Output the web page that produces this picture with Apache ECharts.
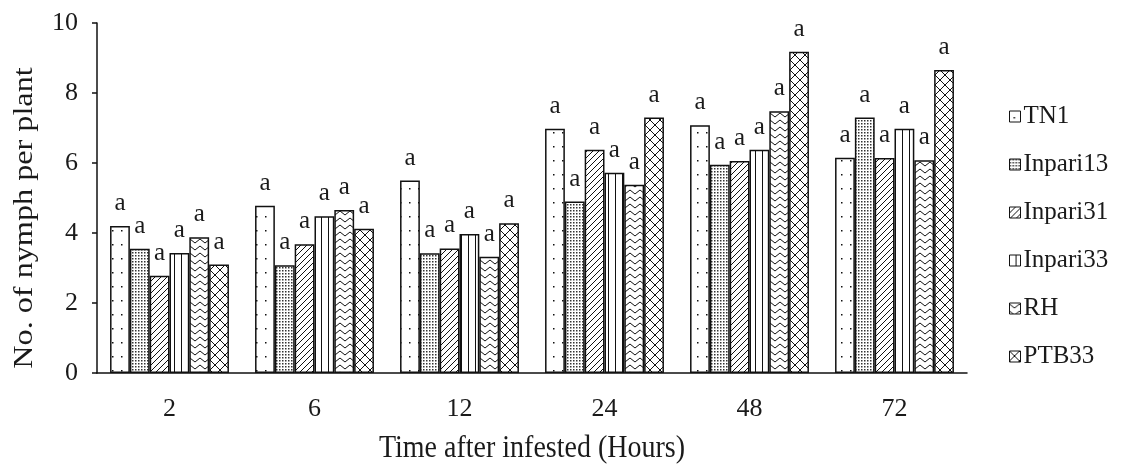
<!DOCTYPE html>
<html>
<head>
<meta charset="utf-8">
<script src="https://cdn.jsdelivr.net/npm/echarts@6/dist/echarts.min.js"></script>
<style>
html,body{margin:0;padding:0;background:#fff;}
#chart{width:1125px;height:464px;}
</style>
</head>
<body>
<div id="chart"></div>
<script>
const categories = ['2', '6', '12', '24', '48', '72'];
const seriesNames = ['TN1', 'Inpari13', 'Inpari31', 'Inpari33', 'RH', 'PTB33'];
const TN1 =      [4.2, 4.78, 5.5, 6.98, 7.08, 6.15];
const Inpari13 = [3.55, 3.08, 3.42, 4.9, 5.95, 7.3];
const Inpari31 = [2.78, 3.68, 3.56, 6.38, 6.06, 6.14];
const Inpari33 = [3.43, 4.48, 3.97, 5.72, 6.38, 6.98];
const RH =       [3.88, 4.66, 3.32, 5.38, 7.48, 6.08];
const PTB33 =    [3.1, 4.12, 4.28, 7.3, 9.18, 8.66];
const letters = ['a', 'a', 'a', 'a', 'a', 'a'];
const yTicks = [0, 2, 4, 6, 8, 10];
const xTitle = 'Time after infested (Hours)';
const yTitle = 'No. of nymph per plant';

function makeTile(w, h, draw) {
  const c = document.createElement('canvas');
  c.width = w; c.height = h;
  const ctx = c.getContext('2d');
  ctx.fillStyle = '#fff';
  ctx.fillRect(0, 0, w, h);
  ctx.strokeStyle = '#111';
  ctx.fillStyle = '#111';
  ctx.lineWidth = 1;
  draw(ctx, w, h);
  return { image: c, repeat: 'repeat' };
}
const patterns = [
  makeTile(9, 14, (ctx) => { ctx.fillRect(4, 6, 1.5, 1.5); }),
  makeTile(3, 3, (ctx) => { ctx.fillStyle = '#333'; ctx.fillRect(0, 0, 1.5, 1.5); }),
  makeTile(6, 6, (ctx) => {
    ctx.beginPath();
    ctx.moveTo(0, 6); ctx.lineTo(6, 0);
    ctx.moveTo(-3, 3); ctx.lineTo(3, -3);
    ctx.moveTo(3, 9); ctx.lineTo(9, 3);
    ctx.stroke();
  }),
  makeTile(7, 10, (ctx) => {
    ctx.beginPath(); ctx.moveTo(6.5, 0); ctx.lineTo(6.5, 10); ctx.stroke();
  }),
  makeTile(10, 7, (ctx) => {
    ctx.beginPath();
    ctx.moveTo(0, 1); ctx.lineTo(5, 5); ctx.lineTo(10, 1);
    ctx.stroke();
  }),
  makeTile(10, 10, (ctx) => {
    ctx.beginPath();
    ctx.moveTo(0, 0); ctx.lineTo(10, 10);
    ctx.moveTo(10, 0); ctx.lineTo(0, 10);
    ctx.stroke();
  })
];

const dataArrays = [TN1, Inpari13, Inpari31, Inpari33, RH, PTB33];
const font = '"Liberation Serif", "Times New Roman", serif';
const txt = '#1a1a1a';

const series = seriesNames.map((name, i) => ({
  name: name,
  type: 'bar',
  data: dataArrays[i],
  barGap: '0%',
  barCategoryGap: '18%',
  itemStyle: { color: patterns[i], borderColor: '#111', borderWidth: 1.5 },
  label: {
    show: true,
    position: 'top',
    distance: 10,
    formatter: (p) => letters[p.dataIndex],
    fontFamily: font,
    fontSize: 25,
    color: txt
  }
}));

const chart = echarts.init(document.getElementById('chart'), null, { renderer: 'canvas' });
chart.setOption({
  animation: false,
  backgroundColor: '#fff',
  grid: { left: 97, right: 158, top: 23, bottom: 91, containLabel: false },
  legend: {
    orient: 'vertical',
    left: 1004,
    top: 99,
    itemWidth: 11,
    itemHeight: 11,
    itemGap: 23,
    icon: 'rect',
    data: seriesNames,
    itemStyle: { borderColor: '#111', borderWidth: 1 },
    textStyle: { fontFamily: font, fontSize: 25, color: txt, padding: [0, 0, 0, -2] }
  },
  xAxis: {
    type: 'category',
    data: categories,
    axisLine: { lineStyle: { color: '#111', width: 1.5 } },
    axisTick: { show: false },
    axisLabel: { fontFamily: font, fontSize: 26, color: txt, margin: 23 }
  },
  yAxis: {
    type: 'value',
    min: yTicks[0],
    max: yTicks[yTicks.length - 1],
    interval: 2,
    axisLine: { show: true, lineStyle: { color: '#111', width: 1.5 } },
    axisTick: { show: true, length: 5, lineStyle: { color: '#111', width: 1.5 } },
    splitLine: { show: false },
    axisLabel: { fontFamily: font, fontSize: 26, color: txt, margin: 19 }
  },
  graphic: [{
    type: 'text',
    x: 25,
    y: 218,
    rotation: Math.PI / 2,
    scaleX: 1.15,
    style: {
      text: yTitle,
      x: 0, y: 0,
      align: 'center',
      verticalAlign: 'middle',
      font: '28px ' + font,
      fill: txt
    }
  }, {
    type: 'text',
    x: 532,
    y: 449,
    scaleY: 1.12,
    style: {
      text: xTitle,
      x: 0, y: 0,
      align: 'center',
      verticalAlign: 'middle',
      font: '28px ' + font,
      fill: txt
    }
  }],
  series: series
});
</script>
</body>
</html>
